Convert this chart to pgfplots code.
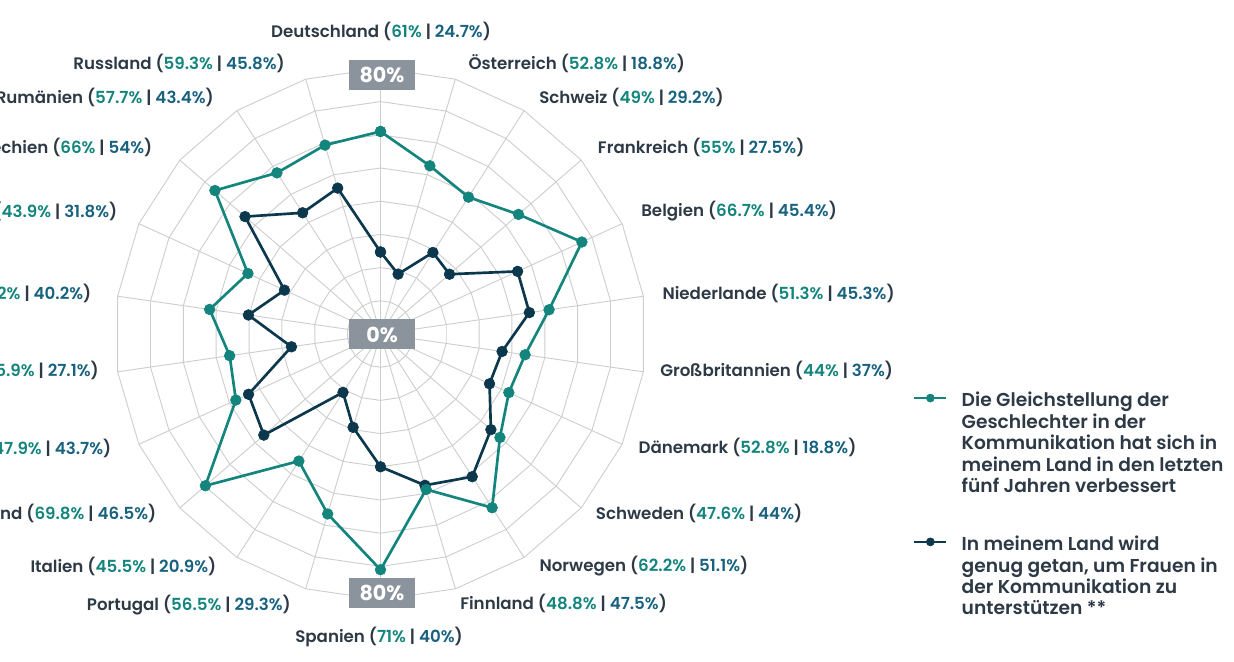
\documentclass[border=0pt]{standalone}
\usepackage{fontspec}
\IfFontExistsTF{Poppins SemiBold}{\setmainfont{Poppins SemiBold}[BoldFont={Poppins Bold}]}{\setmainfont{Poppins}}
\usepackage{pgfplots}
\usepackage{pgfplotstable}
\pgfplotsset{compat=1.18}
\definecolor{cteal}{RGB}{20,133,125}
\definecolor{cdark}{RGB}{12,56,77}
\definecolor{cblue}{RGB}{24,98,128}
\definecolor{cname}{RGB}{45,58,70}
\definecolor{cgrid}{RGB}{206,206,206}
\definecolor{cbox}{RGB}{139,148,156}

\pgfplotsset{
  legA/.style={legend image code/.code={\draw[mark repeat=2,mark phase=2,mark size=3pt,##1] plot coordinates {(0pt,70.9pt) (12pt,70.9pt) (24pt,70.9pt)};}},
  legB/.style={legend image code/.code={\draw[mark repeat=2,mark phase=2,mark size=3pt,##1] plot coordinates {(0pt,54.8pt) (12pt,54.8pt) (24pt,54.8pt)};}},
}

\pgfplotstableread{
i a b
0 61 24.7
1 52.8 18.8
2 49 29.2
3 55 27.5
4 66.7 45.4
5 51.3 45.3
6 44 37
7 42.5 36.1
8 47.6 44
9 62.2 51.1
10 48.8 47.5
11 71 40
12 56.5 29.3
13 45.5 20.9
14 69.8 46.5
15 47.9 43.7
16 45.9 27.1
17 52 40.2
18 43.9 31.8
19 66 54
20 57.7 43.4
21 59.3 45.8
22 61 24.7
}\datatab

\pgfplotstableread{
r d
0 0
80 0
}\spoketab

\newcommand{\lab}[3]{{\color{cname}#1\ (}{\color{cteal}#2\%}{\color{cname}\ |\ }{\color{cblue}#3\%}{\color{cname})}}

\begin{document}
\begin{tikzpicture}[x=0.75pt,y=0.75pt]
\useasboundingbox (0,0) rectangle (1234,661);
\clip (0,0) rectangle (1234,661);
\begin{axis}[
  at={(285.375pt,245.25pt)}, anchor=center,
  x=2.49pt, y=2.49pt,
  xmin=-80, xmax=80, ymin=-80, ymax=80,
  hide axis, clip=false,
  reverse legend,
  legend style={at={(axis cs:160.4,-17.5)}, anchor=north west, draw=none, fill=none,
    inner sep=0pt, outer sep=0pt, column sep=10.5pt, row sep=31pt,
    font=\fontsize{14}{16.1}\selectfont\color{cname},
    nodes={inner sep=0pt},
    cells={anchor=base west, align=left}},
]
\pgfplotsinvokeforeach{10,20,30,40,50,60,70,80}{
  \addplot[forget plot, color=cgrid, line width=0.7pt] table[x expr={#1*sin(\thisrow{i}*360/22)}, y expr={#1*cos(\thisrow{i}*360/22)}] {\datatab};
}
\pgfplotsinvokeforeach{0,...,21}{
  \addplot[forget plot, color=cgrid, line width=0.7pt] table[x expr={\thisrow{r}*sin(#1*360/22)}, y expr={\thisrow{r}*cos(#1*360/22)}] {\spoketab};
}
\addplot[color=cdark, line width=2pt, mark=*, mark size=4pt, mark options={fill=cdark, line width=0.5pt}, legB]
  table[x expr={\thisrow{b}*sin(\thisrow{i}*360/22)}, y expr={\thisrow{b}*cos(\thisrow{i}*360/22)}] {\datatab};
\addlegendentry{In meinem Land wird\\genug getan, um Frauen in\\der Kommunikation zu\\unterstützen **}
\addplot[color=cteal, line width=2pt, mark=*, mark size=4pt, mark options={fill=cteal, line width=0.5pt}, legA]
  table[x expr={\thisrow{a}*sin(\thisrow{i}*360/22)}, y expr={\thisrow{a}*cos(\thisrow{i}*360/22)}] {\datatab};
\addlegendentry{Die Gleichstellung der\\Geschlechter in der\\Kommunikation hat sich in\\meinem Land in den letzten\\fünf Jahren verbessert}
\end{axis}

\tikzset{lbl/.style={inner sep=0pt, font=\fontsize{12.5}{15}\selectfont}}
\node[lbl, anchor=base] at (381,{661-38}) {\lab{Deutschland}{61}{24.7}};
\node[lbl, anchor=base west] at (468.3,{661-69.3}) {\lab{Österreich}{52.8}{18.8}};
\node[lbl, anchor=base west] at (539,{661-103.7}) {\lab{Schweiz}{49}{29.2}};
\node[lbl, anchor=base west] at (597.7,{661-153.3}) {\lab{Frankreich}{55}{27.5}};
\node[lbl, anchor=base west] at (641,{661-216.7}) {\lab{Belgien}{66.7}{45.4}};
\node[lbl, anchor=base west] at (662.3,{661-299.3}) {\lab{Niederlande}{51.3}{45.3}};
\node[lbl, anchor=base west] at (660,{661-376}) {\lab{Großbritannien}{44}{37}};
\node[lbl, anchor=base west] at (638.3,{661-453.3}) {\lab{Dänemark}{52.8}{18.8}};
\node[lbl, anchor=base west] at (595.7,{661-519.3}) {\lab{Schweden}{47.6}{44}};
\node[lbl, anchor=base west] at (539.3,{661-571.7}) {\lab{Norwegen}{62.2}{51.1}};
\node[lbl, anchor=base west] at (460,{661-609.3}) {\lab{Finnland}{48.8}{47.5}};
\node[lbl, anchor=base] at (379,{661-642.7}) {\lab{Spanien}{71}{40}};
\node[lbl, anchor=base east] at (291,{661-610}) {\lab{Portugal}{56.5}{29.3}};
\node[lbl, anchor=base east] at (216.5,{661-572}) {\lab{Italien}{45.5}{20.9}};
\node[lbl, anchor=base east] at (156.5,{661-519.3}) {\lab{Griechenland}{69.8}{46.5}};
\node[lbl, anchor=base east] at (111.5,{661-454.3}) {\lab{Türkei}{47.9}{43.7}};
\node[lbl, anchor=base east] at (99,{661-376.7}) {\lab{Slowenien}{45.9}{27.1}};
\node[lbl, anchor=base east] at (91.5,{661-300}) {\lab{Polen}{52}{40.2}};
\node[lbl, anchor=base east] at (117.5,{661-217.7}) {\lab{Ungarn}{43.9}{31.8}};
\node[lbl, anchor=base east] at (152.5,{661-153.7}) {\lab{Tschechien}{66}{54}};
\node[lbl, anchor=base east] at (214,{661-103.3}) {\lab{Rumänien}{57.7}{43.4}};
\node[lbl, anchor=base east] at (285,{661-70}) {\lab{Russland}{59.3}{45.8}};

\tikzset{bx/.style={fill=cbox, text=white, minimum width=49.5pt, minimum height=22.5pt, inner sep=0pt, font=\bfseries\fontsize{15.5}{16}\selectfont}}
\node[bx] at (382,{661-75}) {80\%};
\node[bx] at (382,{661-334.5}) {0\%};
\node[bx] at (382,{661-593}) {80\%};
\end{tikzpicture}
\end{document}
